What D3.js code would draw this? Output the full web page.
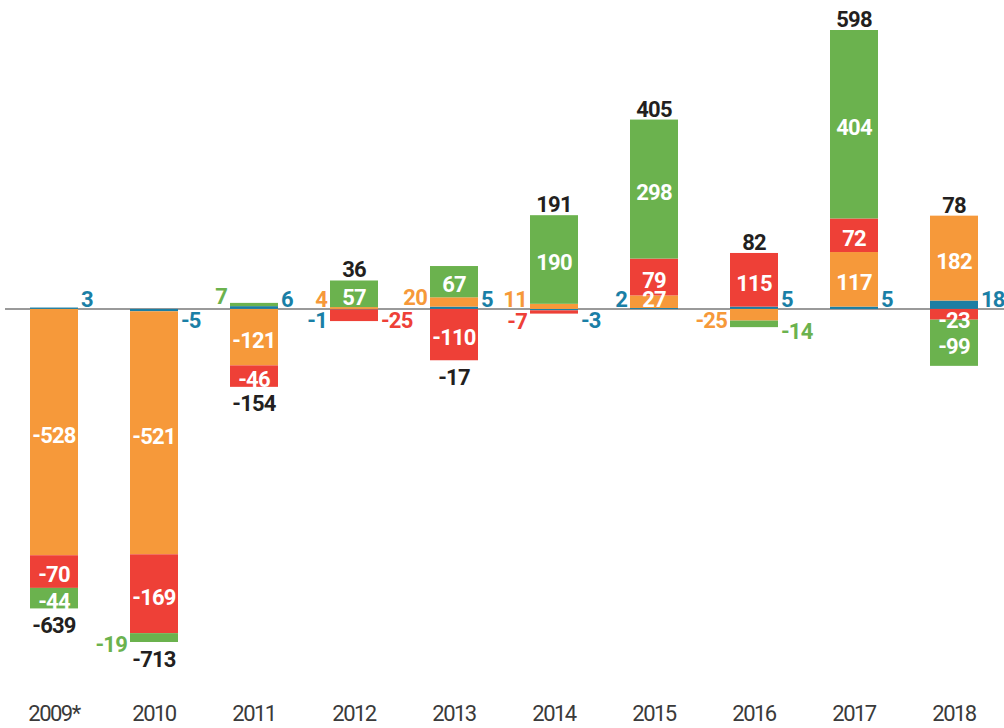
<!DOCTYPE html>
<html>
<head>
<meta charset="utf-8">
<script src="https://cdn.jsdelivr.net/npm/d3@7"></script>
<style>
  body { margin: 0; background: #fff; }
  svg { display: block; font-family: Roboto, "Noto Sans", sans-serif; }
</style>
</head>
<body>
<div id="chart"></div>
<script>
// data
var years = ["2009*", "2010", "2011", "2012", "2013", "2014", "2015", "2016", "2017", "2018"];
var blue = [3, -5, 6, -1, 5, -3, 2, 5, 5, 18];
var orange = [-528, -521, -121, 4, 20, 11, 27, -25, 117, 182];
var red = [-70, -169, -46, -25, -110, -7, 79, 115, 72, -23];
var green = [-44, -19, 7, 57, 67, 190, 298, -14, 404, -99];
var totals = [-639, -713, -154, 36, -17, 191, 405, 82, 598, 78];

var keys = ["blue", "orange", "red", "green"];
var colors = { blue: "#1b7ea3", orange: "#f6993a", red: "#ee4037", green: "#6bb24e" };
var labelColors = { blue: "#1a7fa6", orange: "#f6993a", red: "#ee4037", green: "#6bb24e" };

// small segments get their label beside the bar: l = left, r = right
var outside = {
    "blue:0": "r", "blue:1": "r", "green:1": "l",
    "green:2": "l", "blue:2": "r",
    "orange:3": "l", "blue:3": "l", "red:3": "r",
    "orange:4": "l", "blue:4": "r",
    "orange:5": "l", "red:5": "l", "blue:5": "r",
    "blue:6": "l",
    "orange:7": "l", "green:7": "r", "blue:7": "r",
    "blue:8": "r", "blue:9": "r"
};

var width = 1004, height = 728;
var svg = d3.select("#chart").append("svg")
    .attr("width", width)
    .attr("height", height);

var rows = years.map(function(y, i) {
    return { year: y, blue: blue[i], orange: orange[i], red: red[i], green: green[i] };
});

var series = d3.stack()
    .keys(keys)
    .offset(d3.stackOffsetDiverging)(rows);

var x = d3.scaleBand()
    .domain(years)
    .range([4, 1004])
    .paddingInner(0.52)
    .paddingOuter(0.26);

var yMin = d3.min(series, s => d3.min(s, d => d[0]));
var yMax = d3.max(series, s => d3.max(s, d => d[1]));
var y = d3.scaleLinear()
    .domain([yMin, yMax])
    .range([642, 30]);

var zero = y(0);
var cap = 15.6; // cap height of the 22px bold labels

// zero line behind the bars
svg.append("line")
    .attr("x1", 5).attr("x2", width)
    .attr("y1", zero).attr("y2", zero)
    .attr("stroke", "#9a9a9a")
    .attr("stroke-width", 2);

// bars
svg.append("g").selectAll("g")
    .data(series)
    .join("g")
    .attr("fill", s => colors[s.key])
    .selectAll("rect")
    .data(s => s)
    .join("rect")
    .attr("x", d => x(d.data.year))
    .attr("width", x.bandwidth())
    .attr("y", d => y(d[1]))
    .attr("height", d => Math.abs(y(d[0]) - y(d[1])));

// segment labels
var labels = [];
series.forEach(function(s) {
    s.forEach(function(d, i) {
        var v = d.data[s.key];
        var side = outside[s.key + ":" + i];
        var x0 = x(d.data.year);
        var top = y(d[1]), bottom = y(d[0]);
        var lab = { text: String(v), key: s.key };
        if (side) {
            lab.fill = labelColors[s.key];
            lab.anchor = side === "l" ? "end" : "start";
            lab.x = side === "l" ? x0 - 3 : x0 + x.bandwidth() + 3;
            // start edge of the segment is the one nearer zero
            lab.y = v >= 0 ? bottom - 2 : top + 3 + cap;
        } else {
            lab.fill = "#fff";
            lab.anchor = "middle";
            lab.x = x0 + x.bandwidth() / 2;
            var base = (top + bottom) / 2 + cap / 2 + 3;
            if (v >= 0) base = Math.min(base, zero - 2);
            else base = Math.max(base, zero + 3 + cap);
            lab.y = base;
        }
        labels.push(lab);
    });
});

svg.append("g")
    .attr("font-size", 22)
    .attr("font-weight", 700)
    .attr("letter-spacing", -0.8)
    .selectAll("text")
    .data(labels)
    .join("text")
    .attr("x", d => d.x)
    .attr("y", d => d.y)
    .attr("text-anchor", d => d.anchor)
    .attr("fill", d => d.fill)
    .text(d => d.text);

// totals, at the end of the bar in the direction of the sign
var posTop = years.map((yr, i) => d3.min(series, s => y(s[i][1])));
var negBottom = years.map((yr, i) => d3.max(series, s => y(s[i][0])));

svg.append("g")
    .attr("font-size", 22)
    .attr("font-weight", 700)
    .attr("letter-spacing", -0.8)
    .attr("fill", "#231f20")
    .selectAll("text")
    .data(totals)
    .join("text")
    .attr("text-anchor", "middle")
    .attr("x", (d, i) => x(years[i]) + x.bandwidth() / 2)
    .attr("y", (d, i) => d >= 0 ? posTop[i] - 3 : negBottom[i] + 9 + cap)
    .text(d => d);

// year labels
var xAxis = svg.append("g")
    .attr("transform", "translate(0," + 700 + ")")
    .call(d3.axisBottom(x).tickSize(0).tickPadding(0));
xAxis.select(".domain").remove();
xAxis.selectAll("text")
    .attr("font-family", "Roboto, 'Noto Sans', sans-serif")
    .attr("font-size", 22)
    .attr("letter-spacing", -1.5)
    .attr("fill", "#3a3a3a")
    .attr("dy", 0)
    .attr("y", 21);
</script>
</body>
</html>
